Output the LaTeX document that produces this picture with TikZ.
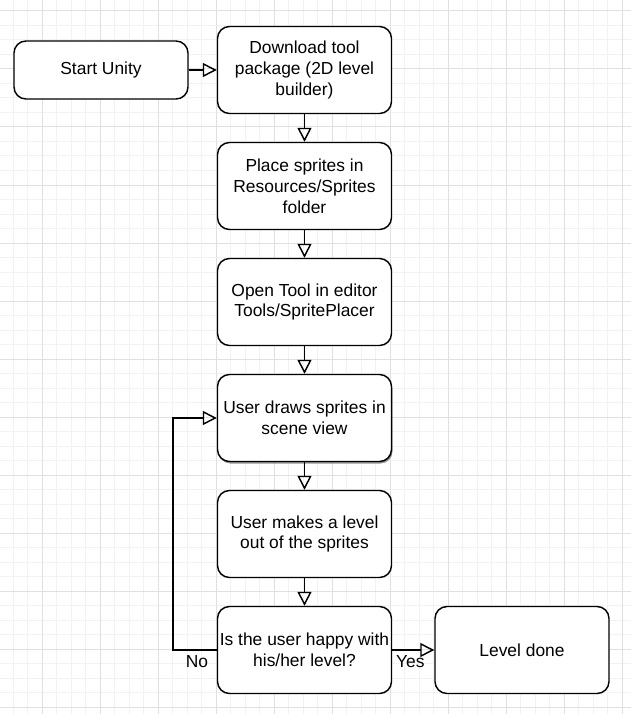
\documentclass[tikz,border=0pt]{standalone}
\usepackage{fontspec}
\setmainfont{Liberation Sans}
\usetikzlibrary{arrows.meta, positioning, calc, shadows}

\tikzset{
    stepbox/.style={draw, line width=1.45pt, rounded corners=12pt, fill=white,
        minimum width=174pt, minimum height=87pt, align=center, inner sep=2pt,
        font=\fontsize{17.4}{20.9}\selectfont},
    flow/.style={line width=1.45pt, -{Triangle[open, length=14pt, width=14pt, line width=1.45pt]}},
    edgelabel/.style={font=\fontsize{17.4}{20.9}\selectfont, inner sep=0pt}
}

\begin{document}
\begin{tikzpicture}[x=1pt, y=-1pt]
    \useasboundingbox (0,0) rectangle (631,714);

    % Background grid - minor every 14.5, major every 58
    \begin{scope}
        \clip (0,0) rectangle (631,714);
        \fill[white] (0,0) rectangle (631,714);
        \foreach \x in {-1.5,13,...,640} \draw[black!5, line width=1pt] (\x,0) -- (\x,714);
        \foreach \y in {-3.5,11,...,720} \draw[black!5, line width=1pt] (0,\y) -- (631,\y);
        \foreach \x in {-16,42,...,660} \draw[black!12, line width=1pt] (\x,0) -- (\x,714);
        \foreach \y in {11,69,...,720} \draw[black!12, line width=1pt] (0,\y) -- (631,\y);
    \end{scope}

    % Steps
    \node[stepbox, minimum height=58pt] (StartUnity) at (101,70) {Start Unity};
    \node[stepbox] (Download) at (304.5,70) {Download tool\\package (2D level\\builder)};
    \node[stepbox] (PlaceSprites) at (304.5,186) {Place sprites in\\Resources/Sprites\\folder};
    \node[stepbox] (OpenTool) at (304.5,302) {Open Tool in editor\\Tools/SpritePlacer};
    \node[stepbox, drop shadow={shadow xshift=1pt, shadow yshift=-2pt, fill=black!70, opacity=0.6}]
        (UserDraws) at (304.5,418) {User draws sprites in\\scene view};
    \node[stepbox] (MakeLevel) at (304.5,534) {User makes a level\\out of the sprites};
    \node[stepbox] (IsHappy) at (304.5,650) {Is the user happy with\\his/her level?};
    \node[stepbox] (LevelDone) at (522,650) {Level done};

    % Connectors
    \draw[flow] (StartUnity) -- (Download);
    \draw[flow] (Download) -- (PlaceSprites);
    \draw[flow] (PlaceSprites) -- (OpenTool);
    \draw[flow] (OpenTool) -- (UserDraws);
    \draw[flow] (UserDraws) -- (MakeLevel);
    \draw[flow] (MakeLevel) -- (IsHappy);
    \draw[flow] (IsHappy.west) -- ++(-44,0) node[edgelabel, pos=0.45, yshift=-12pt] {No}
        |- (UserDraws.west);
    \draw[flow] (IsHappy) -- node[edgelabel, pos=0.43, yshift=-12pt] {Yes} (LevelDone);
\end{tikzpicture}
\end{document}
